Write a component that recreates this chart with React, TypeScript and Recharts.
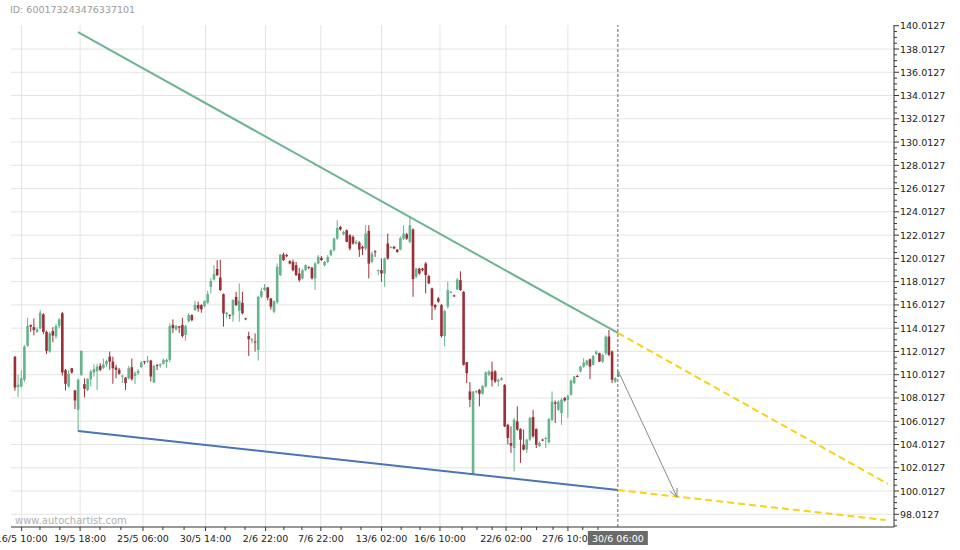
import React from "react";
import {
  ComposedChart,
  Bar,
  XAxis,
  YAxis,
  CartesianGrid,
  ReferenceLine,
} from "recharts";

// 4h candles
const opens = [
  111.57, 108.95, 109.0, 109.57, 112.5, 114.3, 114.1, 113.7, 114.0, 115.2,
  113.7, 112.0, 113.77, 113.3, 114.2, 115.29, 110.4, 109.0, 110.57, 108.66,
  107.0, 110.0, 109.2, 108.7, 109.6, 110.2, 110.3, 110.77, 110.6, 110.9,
  111.57, 111.14, 110.63, 110.43, 109.9, 109.77, 109.7, 110.66, 109.9, 110.14,
  110.66, 111.17, 111.14, 111.23, 109.34, 110.86, 110.8, 110.94, 111.1, 111.29,
  114.3, 113.9, 114.17, 114.3, 113.43, 114.6, 115.14, 115.57, 116.0, 116.0,
  115.9, 116.2, 117.57, 118.2, 119.1, 118.37, 116.94, 115.2, 115.14, 115.14,
  116.7, 115.51, 116.2, 114.86, 113.34, 112.95, 112.86, 112.14, 116.71, 117.29,
  117.51, 116.57, 115.43, 116.23, 118.57, 120.34, 120.3, 119.77, 119.71, 119.43,
  118.71, 118.29, 119.0, 119.29, 119.2, 118.29, 119.57, 120.06, 119.43, 119.71,
  120.29, 120.71, 121.71, 122.71, 122.09, 122.43, 122.0, 121.86, 121.29, 121.37,
  121.0, 120.86, 122.37, 119.71, 120.63, 118.91, 119.0, 118.71, 121.29, 120.91,
  121.0, 120.77, 120.77, 121.71, 122.09, 121.43, 122.49, 118.43, 119.14, 119.14,
  119.57, 118.49, 117.43, 116.0, 116.57, 116.0, 113.34, 115.86, 117.05, 116.83,
  117.34, 118.14, 117.14, 111.09, 108.57, 101.5, 108.5, 108.71, 108.37, 109.0,
  110.0, 110.29, 110.29, 109.43, 109.57, 109.14, 105.71, 104.14, 103.71, 106.0,
  105.34, 104.0, 103.57, 104.43, 106.37, 105.34, 103.86, 104.43, 104.5, 104.2,
  106.14, 107.63, 107.0, 106.71, 108.0, 107.86, 108.29, 109.29, 109.9, 110.29,
  110.71, 110.86, 111.34, 110.86, 111.8, 111.86, 111.14, 111.86, 113.29, 112.0,
  109.43, 109.86,
];
const highs = [
  111.6, 110.0, 110.4, 112.57, 114.9, 114.3, 114.85, 114.1, 115.57, 115.3,
  113.8, 113.7, 114.1, 114.4, 114.9, 115.4, 110.5, 110.4, 110.6, 108.7,
  109.7, 112.1, 109.7, 109.7, 110.43, 110.9, 110.94, 111.0, 111.4, 111.3,
  112.0, 111.57, 110.86, 110.6, 110.0, 109.8, 110.77, 111.4, 110.3, 110.5,
  111.2, 111.2, 111.63, 111.3, 110.86, 110.9, 111.0, 111.4, 111.4, 114.43,
  114.77, 114.3, 114.2, 114.9, 114.3, 115.3, 115.2, 116.37, 116.3, 116.06,
  116.4, 117.23, 118.3, 119.43, 119.86, 119.9, 117.0, 115.4, 115.2, 116.5,
  117.14, 117.86, 117.14, 114.9, 113.7, 113.2, 113.57, 116.8, 117.5, 117.8,
  117.57, 116.6, 116.4, 119.57, 120.4, 120.5, 120.4, 119.86, 119.91, 119.7,
  119.2, 119.1, 119.5, 119.3, 119.3, 119.7, 120.3, 120.2, 119.8, 120.3,
  120.8, 121.8, 123.29, 122.8, 122.4, 122.5, 122.1, 122.0, 121.6, 121.5,
  121.1, 122.86, 122.86, 120.6, 120.7, 119.05, 120.0, 120.1, 122.14, 121.05,
  121.1, 120.8, 121.9, 122.86, 122.2, 123.57, 122.6, 119.2, 119.2, 119.2,
  119.7, 118.6, 117.5, 116.1, 116.7, 116.1, 115.6, 118.0, 117.2, 116.9,
  118.3, 118.9, 117.2, 111.1, 109.37, 108.6, 108.7, 108.8, 109.1, 110.3,
  110.4, 111.14, 110.4, 109.7, 109.8, 109.2, 105.8, 105.57, 106.3, 107.29,
  105.4, 105.3, 104.5, 106.4, 107.0, 105.4, 104.3, 104.5, 104.7, 106.3,
  108.57, 107.8, 107.8, 108.0, 108.1, 108.3, 109.6, 109.9, 110.0, 110.8,
  111.43, 111.3, 111.4, 111.7, 112.1, 111.9, 111.8, 113.4, 113.86, 112.1,
  109.8, 110.3,
];
const lows = [
  108.63, 108.1, 108.9, 109.4, 112.4, 113.7, 113.4, 113.6, 113.9, 113.5,
  111.8, 111.9, 112.8, 113.1, 114.0, 109.94, 108.66, 108.9, 110.1, 107.06,
  105.17, 109.9, 108.06, 108.6, 109.0, 109.85, 108.7, 110.3, 110.5, 110.7,
  110.43, 109.23, 109.7, 110.0, 109.3, 108.7, 109.6, 109.5, 109.2, 110.0,
  110.6, 110.9, 111.0, 109.43, 109.3, 110.4, 110.6, 110.9, 110.6, 111.1,
  113.6, 113.8, 113.6, 113.2, 112.94, 114.5, 114.6, 115.5, 115.43, 115.34,
  115.8, 116.1, 117.0, 118.1, 118.5, 117.2, 114.14, 114.86, 114.8, 114.57,
  115.9, 114.57, 115.2, 114.7, 111.63, 112.7, 112.0, 111.23, 116.6, 117.2,
  116.4, 115.6, 115.29, 116.1, 118.5, 119.8, 120.1, 119.5, 118.9, 118.5,
  118.0, 118.2, 118.9, 119.1, 118.2, 117.29, 119.5, 119.8, 119.3, 119.6,
  120.2, 120.6, 121.6, 122.4, 122.0, 121.4, 120.7, 121.2, 121.2, 120.14,
  120.29, 120.7, 118.29, 119.6, 120.14, 118.57, 118.0, 117.57, 119.9, 120.86,
  120.8, 120.5, 120.7, 121.6, 121.6, 121.3, 116.71, 118.3, 118.6, 118.9,
  117.0, 117.8, 114.71, 115.57, 116.2, 113.2, 112.43, 115.7, 117.0, 116.7,
  117.3, 117.2, 110.8, 109.29, 107.23, 101.43, 108.4, 107.29, 108.3, 108.9,
  109.9, 109.0, 109.3, 109.0, 109.5, 105.5, 104.0, 103.29, 101.71, 105.2,
  102.43, 103.5, 103.29, 104.3, 104.6, 103.7, 103.8, 104.3, 103.71, 104.1,
  106.0, 105.86, 106.9, 105.71, 107.7, 106.29, 108.2, 109.2, 109.8, 110.2,
  110.6, 110.8, 109.63, 110.8, 111.7, 111.1, 111.0, 111.7, 111.6, 109.29,
  109.3, 109.8,
];
const closes = [
  108.91, 109.15, 109.7, 112.43, 114.2, 114.15, 113.85, 113.9, 115.34, 113.7,
  112.06, 113.57, 113.37, 114.2, 114.77, 110.2, 109.23, 110.1, 110.2, 107.8,
  109.57, 112.06, 108.8, 109.66, 110.3, 110.5, 110.7, 110.43, 110.9, 111.2,
  111.14, 110.57, 110.43, 110.1, 109.94, 109.29, 110.57, 109.63, 110.14, 110.34,
  111.06, 111.1, 111.23, 109.86, 110.77, 110.77, 110.9, 111.29, 111.29, 114.2,
  114.0, 114.2, 114.06, 113.34, 114.2, 115.14, 114.7, 116.0, 115.7, 115.63,
  116.34, 116.94, 118.06, 118.66, 118.57, 117.29, 115.29, 115.34, 115.09, 116.43,
  116.0, 116.37, 115.29, 114.8, 113.06, 113.05, 112.8, 116.71, 117.2, 117.49,
  116.63, 115.86, 116.34, 119.29, 120.34, 119.86, 120.2, 119.57, 119.0, 118.57,
  118.14, 119.0, 119.43, 119.2, 118.29, 119.57, 120.14, 119.86, 119.71, 120.14,
  120.71, 121.71, 122.63, 122.49, 122.29, 121.43, 120.86, 121.29, 121.43, 120.77,
  120.86, 122.14, 119.57, 120.43, 120.57, 119.0, 118.71, 120.0, 120.0, 121.0,
  120.86, 120.57, 121.77, 122.14, 121.71, 122.86, 118.23, 119.14, 118.71, 119.0,
  118.57, 117.86, 115.94, 115.8, 116.29, 113.34, 115.49, 117.29, 117.14, 116.77,
  118.2, 117.29, 110.86, 110.14, 107.86, 108.57, 108.6, 108.37, 109.06, 110.2,
  110.29, 109.57, 109.43, 109.57, 109.71, 105.57, 104.57, 103.91, 106.14, 105.29,
  104.43, 103.57, 104.43, 106.29, 104.71, 104.0, 104.14, 104.37, 104.57, 106.2,
  107.71, 107.51, 107.71, 107.86, 107.8, 108.2, 109.51, 109.86, 109.86, 110.71,
  111.06, 111.23, 110.71, 111.63, 112.0, 111.14, 111.71, 113.29, 111.71, 109.57,
  109.71, 110.29,
];

// time axis (bar index)
const timeLabels = [
  "16/5 10:00", "19/5 18:00", "25/5 06:00", "30/5 14:00", "2/6 22:00",
  "7/6 22:00", "13/6 02:00", "16/6 10:00", "22/6 02:00", "27/6 10:00",
];
const timeLabelPos = [2.1, 20.6, 40.5, 60.3, 79.3, 96.8, 116.0, 134.5, 155.4, 175.0];
const minorTimePos = [
  7.9, 14.2, 26.9, 33.5, 46.8, 53.5, 66.5, 72.8, 85.1, 90.8, 103.2, 109.5,
  122.2, 128.2, 141.5, 146.2, 151.0, 160.3, 165.1, 170.3, 179.7, 184.5,
];
const patternEnd = 190.8;
const patternEndLabel = "30/6 06:00";

const priceTicks = [
  98.0127, 100.0127, 102.0127, 104.0127, 106.0127, 108.0127, 110.0127,
  112.0127, 114.0127, 116.0127, 118.0127, 120.0127, 122.0127, 124.0127,
  126.0127, 128.0127, 130.0127, 132.0127, 134.0127, 136.0127, 138.0127,
  140.0127,
];

// pattern lines (bar index, price)
const resistanceLine = [{ x: 19.94, y: 139.47 }, { x: 190.8, y: 113.6 }];
const resistanceProj = [{ x: 190.8, y: 113.6 }, { x: 276.3, y: 100.62 }];
const supportLine = [{ x: 19.94, y: 105.17 }, { x: 190.8, y: 100.1 }];
const supportProj = [{ x: 190.8, y: 100.1 }, { x: 275.6, y: 97.52 }];
const forecastArrow = [{ x: 191.5, y: 109.99 }, { x: 209.5, y: 99.5 }];

const UP = "#64b48c";
const DOWN = "#9b2f36";
const FONT = "DejaVu Sans";

const data = opens.map((o, i) => ({
  i,
  o,
  h: highs[i],
  l: lows[i],
  c: closes[i],
  range: [lows[i], highs[i]],
}));

const minorPriceTicks = priceTicks
  .flatMap((t) => [t - 1.5, t - 1, t - 0.5])
  .filter((v) => v > 96.95);

const isIn = (arr: number[], v: number) => arr.some((a) => Math.abs(a - v) < 1e-6);

const Candle = (props: any) => {
  const { x, y, width, height, payload } = props;
  if (!payload) return null;
  const { o, c, h, l } = payload;
  const top = Math.min(y, y + height);
  const span = Math.abs(height);
  const ppu = h > l ? span / (h - l) : 0;
  const py = (v: number) => top + (h - v) * ppu;
  const cx = x + width / 2;
  const color = c >= o ? UP : DOWN;
  const bodyTop = py(Math.max(o, c));
  const bodyH = Math.max(1, Math.abs(py(o) - py(c)));
  return (
    <g>
      <line x1={cx} x2={cx} y1={top} y2={top + span} stroke={color} strokeWidth={1} />
      <rect x={cx - 1.3} y={bodyTop} width={2.6} height={bodyH} fill={color} />
    </g>
  );
};

const PriceTick = (props: any) => {
  const { x, y, payload } = props;
  const major = isIn(priceTicks, payload.value);
  return (
    <g>
      <line x1={x} x2={x + (major ? 5 : 3)} y1={y} y2={y} stroke="#333" />
      {major && (
        <text x={x + 6} y={y} dy={3.5} fontSize={9.5} fontFamily={FONT} fill="#222">
          {payload.value.toFixed(4)}
        </text>
      )}
    </g>
  );
};

const TimeTick = (props: any) => {
  const { x, y, payload } = props;
  const v = payload.value;
  if (Math.abs(v - patternEnd) < 1e-6) {
    return (
      <g>
        <rect x={x - 30} y={y + 4} width={60} height={14} fill="#6b6b6b" />
        <text x={x} y={y + 15} textAnchor="middle" fontSize={9.5} fontFamily={FONT} fill="#fff">
          {patternEndLabel}
        </text>
      </g>
    );
  }
  const k = timeLabelPos.findIndex((p) => Math.abs(p - v) < 1e-6);
  return (
    <g>
      <line x1={x} x2={x} y1={y} y2={y + (k >= 0 ? 4 : 3)} stroke="#333" />
      {k >= 0 && (
        <text x={x} y={y + 15} textAnchor="middle" fontSize={9.5} fontFamily={FONT} fill="#222">
          {timeLabels[k]}
        </text>
      )}
    </g>
  );
};

const ArrowShape = (p: any) => {
  const { x1, y1, x2, y2 } = p;
  if ([x1, y1, x2, y2].some((n) => n == null || isNaN(n))) return null;
  const a = Math.atan2(y2 - y1, x2 - x1);
  const len = 9;
  const w = 0.45;
  const ax = x2 - len * Math.cos(a - w);
  const ay = y2 - len * Math.sin(a - w);
  const bx = x2 - len * Math.cos(a + w);
  const by = y2 - len * Math.sin(a + w);
  return (
    <g>
      <line x1={x1} y1={y1} x2={x2} y2={y2} stroke="#8a8a8a" strokeWidth={1} />
      <polyline points={`${ax},${ay} ${x2},${y2} ${bx},${by}`} fill="none" stroke="#8a8a8a" strokeWidth={1} />
    </g>
  );
};

const App = () => {
  return (
    <div style={{ position: "absolute", left: 0, top: 0, width: 960, height: 550, background: "#fff" }}>
      <ComposedChart
        width={960}
        height={550}
        data={data}
        margin={{ top: 25, right: 0, bottom: 0, left: 11 }}
      >
        <CartesianGrid
          stroke="#e4e4e4"
          horizontalValues={priceTicks.filter((t) => t < 140)}
          verticalValues={timeLabelPos}
        />
        <XAxis
          dataKey="i"
          type="number"
          domain={[-1.27, 278.2]}
          allowDataOverflow
          ticks={[...minorTimePos, ...timeLabelPos, patternEnd]}
          interval={0}
          tickSize={0}
          tickMargin={0}
          tick={<TimeTick />}
          height={23}
          stroke="#333"
        />
        <YAxis
          orientation="right"
          type="number"
          domain={[96.919, 140.076]}
          allowDataOverflow
          ticks={[...minorPriceTicks, ...priceTicks]}
          interval={0}
          tickSize={0}
          tickMargin={0}
          tick={<PriceTick />}
          width={66}
          stroke="#333"
        />
        <Bar dataKey="range" barSize={3} shape={<Candle />} isAnimationActive={false} />
        <ReferenceLine x={patternEnd} stroke="#666" strokeDasharray="3 2" ifOverflow="visible" />
        <ReferenceLine segment={resistanceLine} stroke="#6db591" strokeWidth={2} ifOverflow="visible" />
        <ReferenceLine segment={supportLine} stroke="#4a74b6" strokeWidth={2} ifOverflow="visible" />
        <ReferenceLine segment={resistanceProj} stroke="#f7d313" strokeWidth={2} strokeDasharray="7 4" ifOverflow="visible" />
        <ReferenceLine segment={supportProj} stroke="#f7d313" strokeWidth={2} strokeDasharray="7 4" ifOverflow="visible" />
        <ReferenceLine segment={forecastArrow} ifOverflow="visible" shape={ArrowShape} />
      </ComposedChart>
      <div
        style={{
          position: "absolute",
          left: 10,
          top: 4,
          fontFamily: FONT,
          fontSize: 9.5,
          lineHeight: "12px",
          color: "#9a9a9a",
        }}
      >
        ID: 600173243476337101
      </div>
      <div
        style={{
          position: "absolute",
          left: 15,
          top: 515,
          fontFamily: FONT,
          fontSize: 10,
          lineHeight: "12px",
          color: "#b0b0b0",
        }}
      >
        www.autochartist.com
      </div>
    </div>
  );
};

export default App;
